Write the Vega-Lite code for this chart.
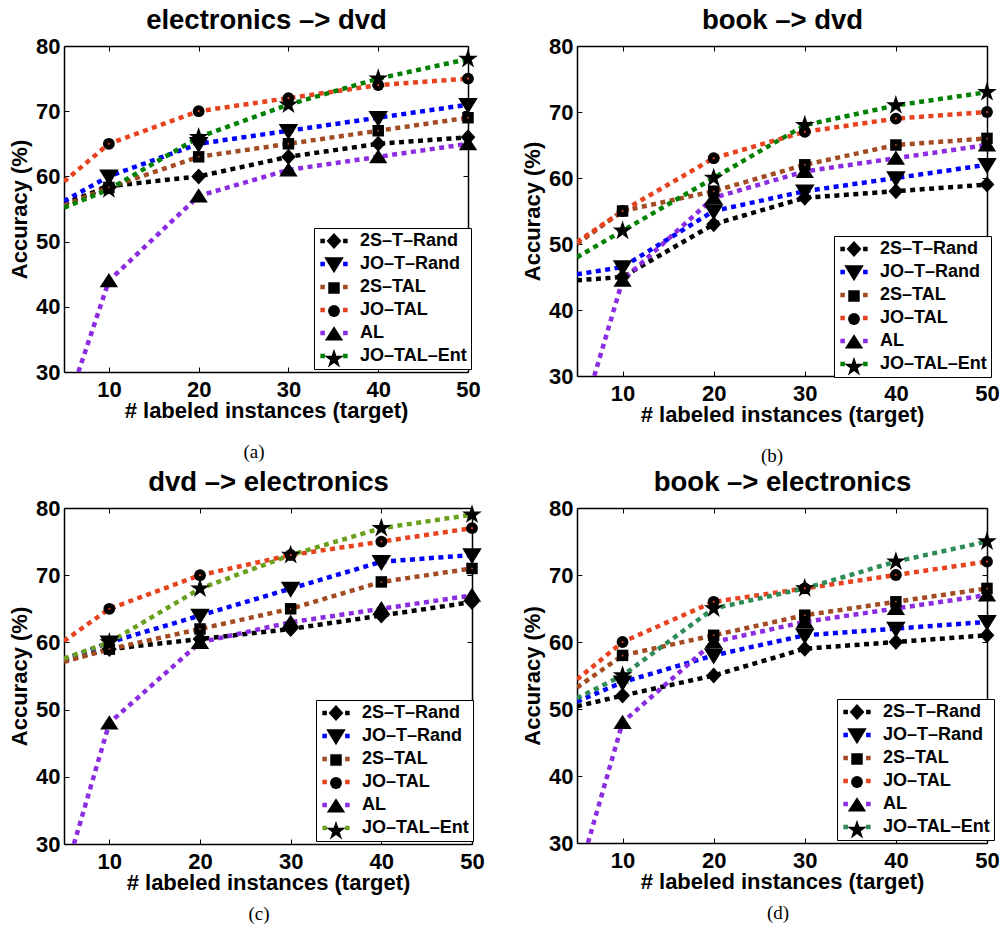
{
  "$schema": "https://vega.github.io/schema/vega-lite/v6.json",
  "background": "white",
  "padding": {"left": 8, "top": 6, "right": 5, "bottom": 5},
  "config": {"view": {"stroke": null}, "font": "Liberation Sans"},
  "datasets": {
    "acc": [
      {"p": "a", "series": "2S–T–Rand", "x": 5, "y": 55.8},
      {"p": "a", "series": "2S–T–Rand", "x": 10, "y": 58.5},
      {"p": "a", "series": "2S–T–Rand", "x": 20, "y": 60},
      {"p": "a", "series": "2S–T–Rand", "x": 30, "y": 63},
      {"p": "a", "series": "2S–T–Rand", "x": 40, "y": 65},
      {"p": "a", "series": "2S–T–Rand", "x": 50, "y": 66},
      {"p": "a", "series": "JO–T–Rand", "x": 5, "y": 56.2},
      {"p": "a", "series": "JO–T–Rand", "x": 10, "y": 60},
      {"p": "a", "series": "JO–T–Rand", "x": 20, "y": 65},
      {"p": "a", "series": "JO–T–Rand", "x": 30, "y": 67},
      {"p": "a", "series": "JO–T–Rand", "x": 40, "y": 69},
      {"p": "a", "series": "JO–T–Rand", "x": 50, "y": 71},
      {"p": "a", "series": "2S–TAL", "x": 5, "y": 55.5},
      {"p": "a", "series": "2S–TAL", "x": 10, "y": 58.3},
      {"p": "a", "series": "2S–TAL", "x": 20, "y": 63},
      {"p": "a", "series": "2S–TAL", "x": 30, "y": 65},
      {"p": "a", "series": "2S–TAL", "x": 40, "y": 67},
      {"p": "a", "series": "2S–TAL", "x": 50, "y": 69},
      {"p": "a", "series": "JO–TAL", "x": 5, "y": 59.2},
      {"p": "a", "series": "JO–TAL", "x": 10, "y": 65},
      {"p": "a", "series": "JO–TAL", "x": 20, "y": 70},
      {"p": "a", "series": "JO–TAL", "x": 30, "y": 72},
      {"p": "a", "series": "JO–TAL", "x": 40, "y": 74},
      {"p": "a", "series": "JO–TAL", "x": 50, "y": 75},
      {"p": "a", "series": "AL", "x": 6.6, "y": 30},
      {"p": "a", "series": "AL", "x": 10, "y": 44},
      {"p": "a", "series": "AL", "x": 20, "y": 57},
      {"p": "a", "series": "AL", "x": 30, "y": 61},
      {"p": "a", "series": "AL", "x": 40, "y": 63},
      {"p": "a", "series": "AL", "x": 50, "y": 65},
      {"p": "a", "series": "JO–TAL–Ent", "x": 5, "y": 55.2},
      {"p": "a", "series": "JO–TAL–Ent", "x": 10, "y": 58},
      {"p": "a", "series": "JO–TAL–Ent", "x": 20, "y": 66},
      {"p": "a", "series": "JO–TAL–Ent", "x": 30, "y": 71},
      {"p": "a", "series": "JO–TAL–Ent", "x": 40, "y": 75},
      {"p": "a", "series": "JO–TAL–Ent", "x": 50, "y": 78},

      {"p": "b", "series": "2S–T–Rand", "x": 5, "y": 44.5},
      {"p": "b", "series": "2S–T–Rand", "x": 10, "y": 45},
      {"p": "b", "series": "2S–T–Rand", "x": 20, "y": 53},
      {"p": "b", "series": "2S–T–Rand", "x": 30, "y": 57},
      {"p": "b", "series": "2S–T–Rand", "x": 40, "y": 58},
      {"p": "b", "series": "2S–T–Rand", "x": 50, "y": 59},
      {"p": "b", "series": "JO–T–Rand", "x": 5, "y": 45.4},
      {"p": "b", "series": "JO–T–Rand", "x": 10, "y": 46.5},
      {"p": "b", "series": "JO–T–Rand", "x": 20, "y": 55},
      {"p": "b", "series": "JO–T–Rand", "x": 30, "y": 58},
      {"p": "b", "series": "JO–T–Rand", "x": 40, "y": 60},
      {"p": "b", "series": "JO–T–Rand", "x": 50, "y": 62},
      {"p": "b", "series": "2S–TAL", "x": 5, "y": 50},
      {"p": "b", "series": "2S–TAL", "x": 10, "y": 55},
      {"p": "b", "series": "2S–TAL", "x": 20, "y": 58},
      {"p": "b", "series": "2S–TAL", "x": 30, "y": 62},
      {"p": "b", "series": "2S–TAL", "x": 40, "y": 65},
      {"p": "b", "series": "2S–TAL", "x": 50, "y": 66},
      {"p": "b", "series": "JO–TAL", "x": 5, "y": 50.3},
      {"p": "b", "series": "JO–TAL", "x": 10, "y": 55},
      {"p": "b", "series": "JO–TAL", "x": 20, "y": 63},
      {"p": "b", "series": "JO–TAL", "x": 30, "y": 67},
      {"p": "b", "series": "JO–TAL", "x": 40, "y": 69},
      {"p": "b", "series": "JO–TAL", "x": 50, "y": 70},
      {"p": "b", "series": "AL", "x": 6.9, "y": 30},
      {"p": "b", "series": "AL", "x": 10, "y": 44.5},
      {"p": "b", "series": "AL", "x": 20, "y": 57},
      {"p": "b", "series": "AL", "x": 30, "y": 61},
      {"p": "b", "series": "AL", "x": 40, "y": 63},
      {"p": "b", "series": "AL", "x": 50, "y": 65},
      {"p": "b", "series": "JO–TAL–Ent", "x": 5, "y": 48},
      {"p": "b", "series": "JO–TAL–Ent", "x": 10, "y": 52},
      {"p": "b", "series": "JO–TAL–Ent", "x": 20, "y": 60},
      {"p": "b", "series": "JO–TAL–Ent", "x": 30, "y": 68},
      {"p": "b", "series": "JO–TAL–Ent", "x": 40, "y": 71},
      {"p": "b", "series": "JO–TAL–Ent", "x": 50, "y": 73},

      {"p": "c", "series": "2S–T–Rand", "x": 5, "y": 57.3},
      {"p": "c", "series": "2S–T–Rand", "x": 10, "y": 59},
      {"p": "c", "series": "2S–T–Rand", "x": 20, "y": 60.5},
      {"p": "c", "series": "2S–T–Rand", "x": 30, "y": 62},
      {"p": "c", "series": "2S–T–Rand", "x": 40, "y": 64},
      {"p": "c", "series": "2S–T–Rand", "x": 50, "y": 66},
      {"p": "c", "series": "JO–T–Rand", "x": 5, "y": 57.4},
      {"p": "c", "series": "JO–T–Rand", "x": 10, "y": 60},
      {"p": "c", "series": "JO–T–Rand", "x": 20, "y": 64},
      {"p": "c", "series": "JO–T–Rand", "x": 30, "y": 68},
      {"p": "c", "series": "JO–T–Rand", "x": 40, "y": 72},
      {"p": "c", "series": "JO–T–Rand", "x": 50, "y": 73},
      {"p": "c", "series": "2S–TAL", "x": 5, "y": 57.1},
      {"p": "c", "series": "2S–TAL", "x": 10, "y": 59},
      {"p": "c", "series": "2S–TAL", "x": 20, "y": 62},
      {"p": "c", "series": "2S–TAL", "x": 30, "y": 65},
      {"p": "c", "series": "2S–TAL", "x": 40, "y": 69},
      {"p": "c", "series": "2S–TAL", "x": 50, "y": 71},
      {"p": "c", "series": "JO–TAL", "x": 5, "y": 60.2},
      {"p": "c", "series": "JO–TAL", "x": 10, "y": 65},
      {"p": "c", "series": "JO–TAL", "x": 20, "y": 70},
      {"p": "c", "series": "JO–TAL", "x": 30, "y": 73},
      {"p": "c", "series": "JO–TAL", "x": 40, "y": 75},
      {"p": "c", "series": "JO–TAL", "x": 50, "y": 77},
      {"p": "c", "series": "AL", "x": 6.1, "y": 30},
      {"p": "c", "series": "AL", "x": 10, "y": 48},
      {"p": "c", "series": "AL", "x": 20, "y": 60},
      {"p": "c", "series": "AL", "x": 30, "y": 63},
      {"p": "c", "series": "AL", "x": 40, "y": 65},
      {"p": "c", "series": "AL", "x": 50, "y": 67},
      {"p": "c", "series": "JO–TAL–Ent", "x": 5, "y": 57.6},
      {"p": "c", "series": "JO–TAL–Ent", "x": 10, "y": 60},
      {"p": "c", "series": "JO–TAL–Ent", "x": 20, "y": 68},
      {"p": "c", "series": "JO–TAL–Ent", "x": 30, "y": 73},
      {"p": "c", "series": "JO–TAL–Ent", "x": 40, "y": 77},
      {"p": "c", "series": "JO–TAL–Ent", "x": 50, "y": 79},

      {"p": "d", "series": "2S–T–Rand", "x": 5, "y": 50.4},
      {"p": "d", "series": "2S–T–Rand", "x": 10, "y": 52},
      {"p": "d", "series": "2S–T–Rand", "x": 20, "y": 55},
      {"p": "d", "series": "2S–T–Rand", "x": 30, "y": 59},
      {"p": "d", "series": "2S–T–Rand", "x": 40, "y": 60},
      {"p": "d", "series": "2S–T–Rand", "x": 50, "y": 61},
      {"p": "d", "series": "JO–T–Rand", "x": 5, "y": 51.1},
      {"p": "d", "series": "JO–T–Rand", "x": 10, "y": 54},
      {"p": "d", "series": "JO–T–Rand", "x": 20, "y": 58},
      {"p": "d", "series": "JO–T–Rand", "x": 30, "y": 61},
      {"p": "d", "series": "JO–T–Rand", "x": 40, "y": 62},
      {"p": "d", "series": "JO–T–Rand", "x": 50, "y": 63},
      {"p": "d", "series": "2S–TAL", "x": 5, "y": 53.2},
      {"p": "d", "series": "2S–TAL", "x": 10, "y": 58},
      {"p": "d", "series": "2S–TAL", "x": 20, "y": 61},
      {"p": "d", "series": "2S–TAL", "x": 30, "y": 64},
      {"p": "d", "series": "2S–TAL", "x": 40, "y": 66},
      {"p": "d", "series": "2S–TAL", "x": 50, "y": 68},
      {"p": "d", "series": "JO–TAL", "x": 5, "y": 54.4},
      {"p": "d", "series": "JO–TAL", "x": 10, "y": 60},
      {"p": "d", "series": "JO–TAL", "x": 20, "y": 66},
      {"p": "d", "series": "JO–TAL", "x": 30, "y": 68},
      {"p": "d", "series": "JO–TAL", "x": 40, "y": 70},
      {"p": "d", "series": "JO–TAL", "x": 50, "y": 72},
      {"p": "d", "series": "AL", "x": 6.2, "y": 30},
      {"p": "d", "series": "AL", "x": 10, "y": 48},
      {"p": "d", "series": "AL", "x": 20, "y": 60},
      {"p": "d", "series": "AL", "x": 30, "y": 63},
      {"p": "d", "series": "AL", "x": 40, "y": 65},
      {"p": "d", "series": "AL", "x": 50, "y": 67},
      {"p": "d", "series": "JO–TAL–Ent", "x": 5, "y": 51.6},
      {"p": "d", "series": "JO–TAL–Ent", "x": 10, "y": 55},
      {"p": "d", "series": "JO–TAL–Ent", "x": 20, "y": 65},
      {"p": "d", "series": "JO–TAL–Ent", "x": 30, "y": 68},
      {"p": "d", "series": "JO–TAL–Ent", "x": 40, "y": 72},
      {"p": "d", "series": "JO–TAL–Ent", "x": 50, "y": 75}
    ]
  },
  "data": {"name": "acc"},
  "columns": 2,
  "spacing": {"row": 2, "column": 36},
  "resolve": {"scale": {"color": "independent", "shape": "independent"}},
  "concat": [
    {
      "width": 404, "height": 326,
      "title": {"text": "(a)", "orient": "bottom", "frame": "group", "font": "Liberation Serif", "fontSize": 19, "fontWeight": "normal", "color": "black", "offset": 22, "dx": -12},
      "transform": [{"filter": "datum.p == 'a'"}],
      "resolve": {"axis": {"x": "independent", "y": "independent"}},
      "layer": [
        {
          "mark": {"type": "line", "strokeWidth": 4.5, "strokeDash": [5, 4.5], "clip": true},
          "encoding": {
            "x": {"field": "x", "type": "quantitative", "scale": {"domain": [5, 50], "nice": false, "zero": false},
              "axis": {"orient": "bottom", "values": [10, 20, 30, 40, 50], "format": "d", "title": "# labeled instances (target)", "titleFont": "Liberation Sans", "titleFontSize": 22, "titleFontWeight": "bold", "titleColor": "black", "titlePadding": 0, "labelFont": "Liberation Sans", "labelFontSize": 22, "labelFontWeight": "bold", "labelColor": "black", "labelPadding": 12, "labelFlush": false, "tickSize": -5, "tickColor": "black", "domainColor": "black", "domainWidth": 1.5, "grid": false}},
            "y": {"field": "y", "type": "quantitative", "scale": {"domain": [30, 80], "nice": false, "zero": false},
              "axis": {"orient": "left", "values": [30, 40, 50, 60, 70, 80], "title": "Accuracy (%)", "titleFont": "Liberation Sans", "titleFontSize": 22, "titleFontWeight": "bold", "titleColor": "black", "titlePadding": 4, "labelFont": "Liberation Sans", "labelFontSize": 22, "labelFontWeight": "bold", "labelColor": "black", "labelPadding": 9, "labelFlush": false, "tickSize": -5, "tickColor": "black", "domainColor": "black", "domainWidth": 1.5, "grid": false}},
            "color": {"field": "series", "type": "nominal",
              "scale": {"domain": ["2S–T–Rand", "JO–T–Rand", "2S–TAL", "JO–TAL", "AL", "JO–TAL–Ent"], "range": ["#000000", "#0000FF", "#A34B22", "#E8431E", "#8B2BE2", "#008000"]},
              "legend": {"title": null, "orient": "none", "legendX": 250, "legendY": 182, "symbolType": "M-2.1,0H-1.4M1.4,0H2.1", "symbolSize": 169, "symbolStrokeWidth": 4.5, "symbolOffset": 7, "labelOffset": 17, "labelFont": "Liberation Sans", "labelFontWeight": "bold", "labelFontSize": 18, "labelColor": "black", "padding": 4, "rowPadding": 5, "strokeColor": "black", "fillColor": "white",
                "encode": {"symbols": {"update": {"strokeDash": {"value": [30, 0]}, "strokeWidth": {"value": 4.5}, "opacity": {"value": 1}}}}}}
          }
        },
        {
          "transform": [{"filter": "datum.x >= 10"}],
          "mark": {"type": "point", "filled": true, "color": "black", "opacity": 1, "size": 140},
          "encoding": {
            "x": {"field": "x", "type": "quantitative", "axis": {"orient": "top", "values": [10, 20, 30, 40, 50], "labels": false, "tickSize": -5, "tickColor": "black", "domainColor": "black", "domainWidth": 1.5, "grid": false, "title": "electronics –> dvd", "titleFont": "Liberation Sans", "titleFontSize": 27.5, "titleFontWeight": "bold", "titleColor": "black", "titlePadding": 11}},
            "y": {"field": "y", "type": "quantitative", "axis": {"orient": "right", "values": [30, 40, 50, 60, 70, 80], "labels": false, "tickSize": -5, "tickColor": "black", "domainColor": "black", "domainWidth": 1.5, "grid": false, "title": null}},
            "shape": {"field": "series", "type": "nominal", "sort": ["2S–T–Rand", "JO–T–Rand", "2S–TAL", "JO–TAL", "AL", "JO–TAL–Ent"],
              "scale": {"range": ["M0,-1.35L1.25,0L0,1.35L-1.25,0Z", "M-1.65,-1.15L1.65,-1.15L0,1.55Z", "M-0.97,-0.97H0.97V0.97H-0.97Z", "circle", "M0,-1.3L1.55,1.1L-1.55,1.1Z", "M0,-1.75L0.394,-0.541L1.664,-0.541L0.635,0.207L1.029,1.416L0,0.669L-1.029,1.416L-0.635,0.207L-1.664,-0.541L-0.394,-0.541Z"]},
              "legend": {"title": null, "orient": "none", "legendX": 250, "legendY": 182, "symbolSize": 140, "symbolFillColor": "black", "symbolStrokeColor": "black", "symbolStrokeWidth": 0, "symbolOpacity": 1, "symbolOffset": 7, "labelOffset": 17, "labelFont": "Liberation Sans", "labelFontWeight": "bold", "labelFontSize": 18, "labelExpr": "''", "padding": 4, "rowPadding": 5}}
          }
        },
        {
          "transform": [{"filter": "datum.x >= 10 && datum.series == 'JO–TAL'"}],
          "mark": {"type": "point", "filled": true, "color": "#E8431E", "opacity": 1, "size": 5},
          "encoding": {"x": {"field": "x", "type": "quantitative", "axis": null}, "y": {"field": "y", "type": "quantitative", "axis": null}}
        },
        {
          "transform": [{"filter": "datum.x >= 10 && datum.series == '2S–TAL'"}],
          "mark": {"type": "point", "filled": true, "color": "#A34B22", "opacity": 1, "size": 4},
          "encoding": {"x": {"field": "x", "type": "quantitative", "axis": null}, "y": {"field": "y", "type": "quantitative", "axis": null}}
        }
      ]
    },
    {
      "width": 410, "height": 330,
      "title": {"text": "(b)", "orient": "bottom", "frame": "group", "font": "Liberation Serif", "fontSize": 19, "fontWeight": "normal", "color": "black", "offset": 22, "dx": -10},
      "transform": [{"filter": "datum.p == 'b'"}],
      "resolve": {"axis": {"x": "independent", "y": "independent"}},
      "layer": [
        {
          "mark": {"type": "line", "strokeWidth": 4.5, "strokeDash": [5, 4.5], "clip": true},
          "encoding": {
            "x": {"field": "x", "type": "quantitative", "scale": {"domain": [5, 50], "nice": false, "zero": false},
              "axis": {"orient": "bottom", "values": [10, 20, 30, 40, 50], "format": "d", "title": "# labeled instances (target)", "titleFont": "Liberation Sans", "titleFontSize": 22, "titleFontWeight": "bold", "titleColor": "black", "titlePadding": 0, "labelFont": "Liberation Sans", "labelFontSize": 22, "labelFontWeight": "bold", "labelColor": "black", "labelPadding": 12, "labelFlush": false, "tickSize": -5, "tickColor": "black", "domainColor": "black", "domainWidth": 1.5, "grid": false}},
            "y": {"field": "y", "type": "quantitative", "scale": {"domain": [30, 80], "nice": false, "zero": false},
              "axis": {"orient": "left", "values": [30, 40, 50, 60, 70, 80], "title": "Accuracy (%)", "titleFont": "Liberation Sans", "titleFontSize": 22, "titleFontWeight": "bold", "titleColor": "black", "titlePadding": 4, "labelFont": "Liberation Sans", "labelFontSize": 22, "labelFontWeight": "bold", "labelColor": "black", "labelPadding": 9, "labelFlush": false, "tickSize": -5, "tickColor": "black", "domainColor": "black", "domainWidth": 1.5, "grid": false}},
            "color": {"field": "series", "type": "nominal",
              "scale": {"domain": ["2S–T–Rand", "JO–T–Rand", "2S–TAL", "JO–TAL", "AL", "JO–TAL–Ent"], "range": ["#000000", "#0000FF", "#A34B22", "#E8431E", "#8B2BE2", "#008000"]},
              "legend": {"title": null, "orient": "none", "legendX": 257, "legendY": 190, "symbolType": "M-2.1,0H-1.4M1.4,0H2.1", "symbolSize": 169, "symbolStrokeWidth": 4.5, "symbolOffset": 7, "labelOffset": 17, "labelFont": "Liberation Sans", "labelFontWeight": "bold", "labelFontSize": 18, "labelColor": "black", "padding": 4, "rowPadding": 5, "strokeColor": "black", "fillColor": "white",
                "encode": {"symbols": {"update": {"strokeDash": {"value": [30, 0]}, "strokeWidth": {"value": 4.5}, "opacity": {"value": 1}}}}}}
          }
        },
        {
          "transform": [{"filter": "datum.x >= 10"}],
          "mark": {"type": "point", "filled": true, "color": "black", "opacity": 1, "size": 140},
          "encoding": {
            "x": {"field": "x", "type": "quantitative", "axis": {"orient": "top", "values": [10, 20, 30, 40, 50], "labels": false, "tickSize": -5, "tickColor": "black", "domainColor": "black", "domainWidth": 1.5, "grid": false, "title": "book –> dvd", "titleFont": "Liberation Sans", "titleFontSize": 27.5, "titleFontWeight": "bold", "titleColor": "black", "titlePadding": 11}},
            "y": {"field": "y", "type": "quantitative", "axis": {"orient": "right", "values": [30, 40, 50, 60, 70, 80], "labels": false, "tickSize": -5, "tickColor": "black", "domainColor": "black", "domainWidth": 1.5, "grid": false, "title": null}},
            "shape": {"field": "series", "type": "nominal", "sort": ["2S–T–Rand", "JO–T–Rand", "2S–TAL", "JO–TAL", "AL", "JO–TAL–Ent"],
              "scale": {"range": ["M0,-1.35L1.25,0L0,1.35L-1.25,0Z", "M-1.65,-1.15L1.65,-1.15L0,1.55Z", "M-0.97,-0.97H0.97V0.97H-0.97Z", "circle", "M0,-1.3L1.55,1.1L-1.55,1.1Z", "M0,-1.75L0.394,-0.541L1.664,-0.541L0.635,0.207L1.029,1.416L0,0.669L-1.029,1.416L-0.635,0.207L-1.664,-0.541L-0.394,-0.541Z"]},
              "legend": {"title": null, "orient": "none", "legendX": 257, "legendY": 190, "symbolSize": 140, "symbolFillColor": "black", "symbolStrokeColor": "black", "symbolStrokeWidth": 0, "symbolOpacity": 1, "symbolOffset": 7, "labelOffset": 17, "labelFont": "Liberation Sans", "labelFontWeight": "bold", "labelFontSize": 18, "labelExpr": "''", "padding": 4, "rowPadding": 5}}
          }
        },
        {
          "transform": [{"filter": "datum.x >= 10 && datum.series == 'JO–TAL'"}],
          "mark": {"type": "point", "filled": true, "color": "#E8431E", "opacity": 1, "size": 5},
          "encoding": {"x": {"field": "x", "type": "quantitative", "axis": null}, "y": {"field": "y", "type": "quantitative", "axis": null}}
        },
        {
          "transform": [{"filter": "datum.x >= 10 && datum.series == '2S–TAL'"}],
          "mark": {"type": "point", "filled": true, "color": "#A34B22", "opacity": 1, "size": 4},
          "encoding": {"x": {"field": "x", "type": "quantitative", "axis": null}, "y": {"field": "y", "type": "quantitative", "axis": null}}
        }
      ]
    },
    {
      "width": 408, "height": 336,
      "title": {"text": "(c)", "orient": "bottom", "frame": "group", "font": "Liberation Serif", "fontSize": 19, "fontWeight": "normal", "color": "black", "offset": 12, "dx": -9},
      "transform": [{"filter": "datum.p == 'c'"}],
      "resolve": {"axis": {"x": "independent", "y": "independent"}},
      "layer": [
        {
          "mark": {"type": "line", "strokeWidth": 4.5, "strokeDash": [5, 4.5], "clip": true},
          "encoding": {
            "x": {"field": "x", "type": "quantitative", "scale": {"domain": [5, 50], "nice": false, "zero": false},
              "axis": {"orient": "bottom", "values": [10, 20, 30, 40, 50], "format": "d", "title": "# labeled instances (target)", "titleFont": "Liberation Sans", "titleFontSize": 22, "titleFontWeight": "bold", "titleColor": "black", "titlePadding": 0, "labelFont": "Liberation Sans", "labelFontSize": 22, "labelFontWeight": "bold", "labelColor": "black", "labelPadding": 12, "labelFlush": false, "tickSize": -5, "tickColor": "black", "domainColor": "black", "domainWidth": 1.5, "grid": false}},
            "y": {"field": "y", "type": "quantitative", "scale": {"domain": [30, 80], "nice": false, "zero": false},
              "axis": {"orient": "left", "values": [30, 40, 50, 60, 70, 80], "title": "Accuracy (%)", "titleFont": "Liberation Sans", "titleFontSize": 22, "titleFontWeight": "bold", "titleColor": "black", "titlePadding": 4, "labelFont": "Liberation Sans", "labelFontSize": 22, "labelFontWeight": "bold", "labelColor": "black", "labelPadding": 9, "labelFlush": false, "tickSize": -5, "tickColor": "black", "domainColor": "black", "domainWidth": 1.5, "grid": false}},
            "color": {"field": "series", "type": "nominal",
              "scale": {"domain": ["2S–T–Rand", "JO–T–Rand", "2S–TAL", "JO–TAL", "AL", "JO–TAL–Ent"], "range": ["#000000", "#0000FF", "#A34B22", "#E8431E", "#8B2BE2", "#6BA01E"]},
              "legend": {"title": null, "orient": "none", "legendX": 252, "legendY": 192, "symbolType": "M-2.1,0H-1.4M1.4,0H2.1", "symbolSize": 169, "symbolStrokeWidth": 4.5, "symbolOffset": 7, "labelOffset": 17, "labelFont": "Liberation Sans", "labelFontWeight": "bold", "labelFontSize": 18, "labelColor": "black", "padding": 4, "rowPadding": 5, "strokeColor": "black", "fillColor": "white",
                "encode": {"symbols": {"update": {"strokeDash": {"value": [30, 0]}, "strokeWidth": {"value": 4.5}, "opacity": {"value": 1}}}}}}
          }
        },
        {
          "transform": [{"filter": "datum.x >= 10"}],
          "mark": {"type": "point", "filled": true, "color": "black", "opacity": 1, "size": 140},
          "encoding": {
            "x": {"field": "x", "type": "quantitative", "axis": {"orient": "top", "values": [10, 20, 30, 40, 50], "labels": false, "tickSize": -5, "tickColor": "black", "domainColor": "black", "domainWidth": 1.5, "grid": false, "title": "dvd –> electronics", "titleFont": "Liberation Sans", "titleFontSize": 27.5, "titleFontWeight": "bold", "titleColor": "black", "titlePadding": 11}},
            "y": {"field": "y", "type": "quantitative", "axis": {"orient": "right", "values": [30, 40, 50, 60, 70, 80], "labels": false, "tickSize": -5, "tickColor": "black", "domainColor": "black", "domainWidth": 1.5, "grid": false, "title": null}},
            "shape": {"field": "series", "type": "nominal", "sort": ["2S–T–Rand", "JO–T–Rand", "2S–TAL", "JO–TAL", "AL", "JO–TAL–Ent"],
              "scale": {"range": ["M0,-1.35L1.25,0L0,1.35L-1.25,0Z", "M-1.65,-1.15L1.65,-1.15L0,1.55Z", "M-0.97,-0.97H0.97V0.97H-0.97Z", "circle", "M0,-1.3L1.55,1.1L-1.55,1.1Z", "M0,-1.75L0.394,-0.541L1.664,-0.541L0.635,0.207L1.029,1.416L0,0.669L-1.029,1.416L-0.635,0.207L-1.664,-0.541L-0.394,-0.541Z"]},
              "legend": {"title": null, "orient": "none", "legendX": 252, "legendY": 192, "symbolSize": 140, "symbolFillColor": "black", "symbolStrokeColor": "black", "symbolStrokeWidth": 0, "symbolOpacity": 1, "symbolOffset": 7, "labelOffset": 17, "labelFont": "Liberation Sans", "labelFontWeight": "bold", "labelFontSize": 18, "labelExpr": "''", "padding": 4, "rowPadding": 5}}
          }
        },
        {
          "transform": [{"filter": "datum.x >= 10 && datum.series == 'JO–TAL'"}],
          "mark": {"type": "point", "filled": true, "color": "#E8431E", "opacity": 1, "size": 5},
          "encoding": {"x": {"field": "x", "type": "quantitative", "axis": null}, "y": {"field": "y", "type": "quantitative", "axis": null}}
        },
        {
          "transform": [{"filter": "datum.x >= 10 && datum.series == '2S–TAL'"}],
          "mark": {"type": "point", "filled": true, "color": "#A34B22", "opacity": 1, "size": 4},
          "encoding": {"x": {"field": "x", "type": "quantitative", "axis": null}, "y": {"field": "y", "type": "quantitative", "axis": null}}
        }
      ]
    },
    {
      "width": 410, "height": 335,
      "title": {"text": "(d)", "orient": "bottom", "frame": "group", "font": "Liberation Serif", "fontSize": 19, "fontWeight": "normal", "color": "black", "offset": 12, "dx": -4},
      "transform": [{"filter": "datum.p == 'd'"}],
      "resolve": {"axis": {"x": "independent", "y": "independent"}},
      "layer": [
        {
          "mark": {"type": "line", "strokeWidth": 4.5, "strokeDash": [5, 4.5], "clip": true},
          "encoding": {
            "x": {"field": "x", "type": "quantitative", "scale": {"domain": [5, 50], "nice": false, "zero": false},
              "axis": {"orient": "bottom", "values": [10, 20, 30, 40, 50], "format": "d", "title": "# labeled instances (target)", "titleFont": "Liberation Sans", "titleFontSize": 22, "titleFontWeight": "bold", "titleColor": "black", "titlePadding": 0, "labelFont": "Liberation Sans", "labelFontSize": 22, "labelFontWeight": "bold", "labelColor": "black", "labelPadding": 12, "labelFlush": false, "tickSize": -5, "tickColor": "black", "domainColor": "black", "domainWidth": 1.5, "grid": false}},
            "y": {"field": "y", "type": "quantitative", "scale": {"domain": [30, 80], "nice": false, "zero": false},
              "axis": {"orient": "left", "values": [30, 40, 50, 60, 70, 80], "title": "Accuracy (%)", "titleFont": "Liberation Sans", "titleFontSize": 22, "titleFontWeight": "bold", "titleColor": "black", "titlePadding": 4, "labelFont": "Liberation Sans", "labelFontSize": 22, "labelFontWeight": "bold", "labelColor": "black", "labelPadding": 9, "labelFlush": false, "tickSize": -5, "tickColor": "black", "domainColor": "black", "domainWidth": 1.5, "grid": false}},
            "color": {"field": "series", "type": "nominal",
              "scale": {"domain": ["2S–T–Rand", "JO–T–Rand", "2S–TAL", "JO–TAL", "AL", "JO–TAL–Ent"], "range": ["#000000", "#0000FF", "#A34B22", "#E8431E", "#8B2BE2", "#2E8B57"]},
              "legend": {"title": null, "orient": "none", "legendX": 260, "legendY": 191, "symbolType": "M-2.1,0H-1.4M1.4,0H2.1", "symbolSize": 169, "symbolStrokeWidth": 4.5, "symbolOffset": 7, "labelOffset": 17, "labelFont": "Liberation Sans", "labelFontWeight": "bold", "labelFontSize": 18, "labelColor": "black", "padding": 4, "rowPadding": 5, "strokeColor": "black", "fillColor": "white",
                "encode": {"symbols": {"update": {"strokeDash": {"value": [30, 0]}, "strokeWidth": {"value": 4.5}, "opacity": {"value": 1}}}}}}
          }
        },
        {
          "transform": [{"filter": "datum.x >= 10"}],
          "mark": {"type": "point", "filled": true, "color": "black", "opacity": 1, "size": 140},
          "encoding": {
            "x": {"field": "x", "type": "quantitative", "axis": {"orient": "top", "values": [10, 20, 30, 40, 50], "labels": false, "tickSize": -5, "tickColor": "black", "domainColor": "black", "domainWidth": 1.5, "grid": false, "title": "book –> electronics", "titleFont": "Liberation Sans", "titleFontSize": 27.5, "titleFontWeight": "bold", "titleColor": "black", "titlePadding": 11}},
            "y": {"field": "y", "type": "quantitative", "axis": {"orient": "right", "values": [30, 40, 50, 60, 70, 80], "labels": false, "tickSize": -5, "tickColor": "black", "domainColor": "black", "domainWidth": 1.5, "grid": false, "title": null}},
            "shape": {"field": "series", "type": "nominal", "sort": ["2S–T–Rand", "JO–T–Rand", "2S–TAL", "JO–TAL", "AL", "JO–TAL–Ent"],
              "scale": {"range": ["M0,-1.35L1.25,0L0,1.35L-1.25,0Z", "M-1.65,-1.15L1.65,-1.15L0,1.55Z", "M-0.97,-0.97H0.97V0.97H-0.97Z", "circle", "M0,-1.3L1.55,1.1L-1.55,1.1Z", "M0,-1.75L0.394,-0.541L1.664,-0.541L0.635,0.207L1.029,1.416L0,0.669L-1.029,1.416L-0.635,0.207L-1.664,-0.541L-0.394,-0.541Z"]},
              "legend": {"title": null, "orient": "none", "legendX": 260, "legendY": 191, "symbolSize": 140, "symbolFillColor": "black", "symbolStrokeColor": "black", "symbolStrokeWidth": 0, "symbolOpacity": 1, "symbolOffset": 7, "labelOffset": 17, "labelFont": "Liberation Sans", "labelFontWeight": "bold", "labelFontSize": 18, "labelExpr": "''", "padding": 4, "rowPadding": 5}}
          }
        },
        {
          "transform": [{"filter": "datum.x >= 10 && datum.series == 'JO–TAL'"}],
          "mark": {"type": "point", "filled": true, "color": "#E8431E", "opacity": 1, "size": 5},
          "encoding": {"x": {"field": "x", "type": "quantitative", "axis": null}, "y": {"field": "y", "type": "quantitative", "axis": null}}
        },
        {
          "transform": [{"filter": "datum.x >= 10 && datum.series == '2S–TAL'"}],
          "mark": {"type": "point", "filled": true, "color": "#A34B22", "opacity": 1, "size": 4},
          "encoding": {"x": {"field": "x", "type": "quantitative", "axis": null}, "y": {"field": "y", "type": "quantitative", "axis": null}}
        }
      ]
    }
  ]
}
